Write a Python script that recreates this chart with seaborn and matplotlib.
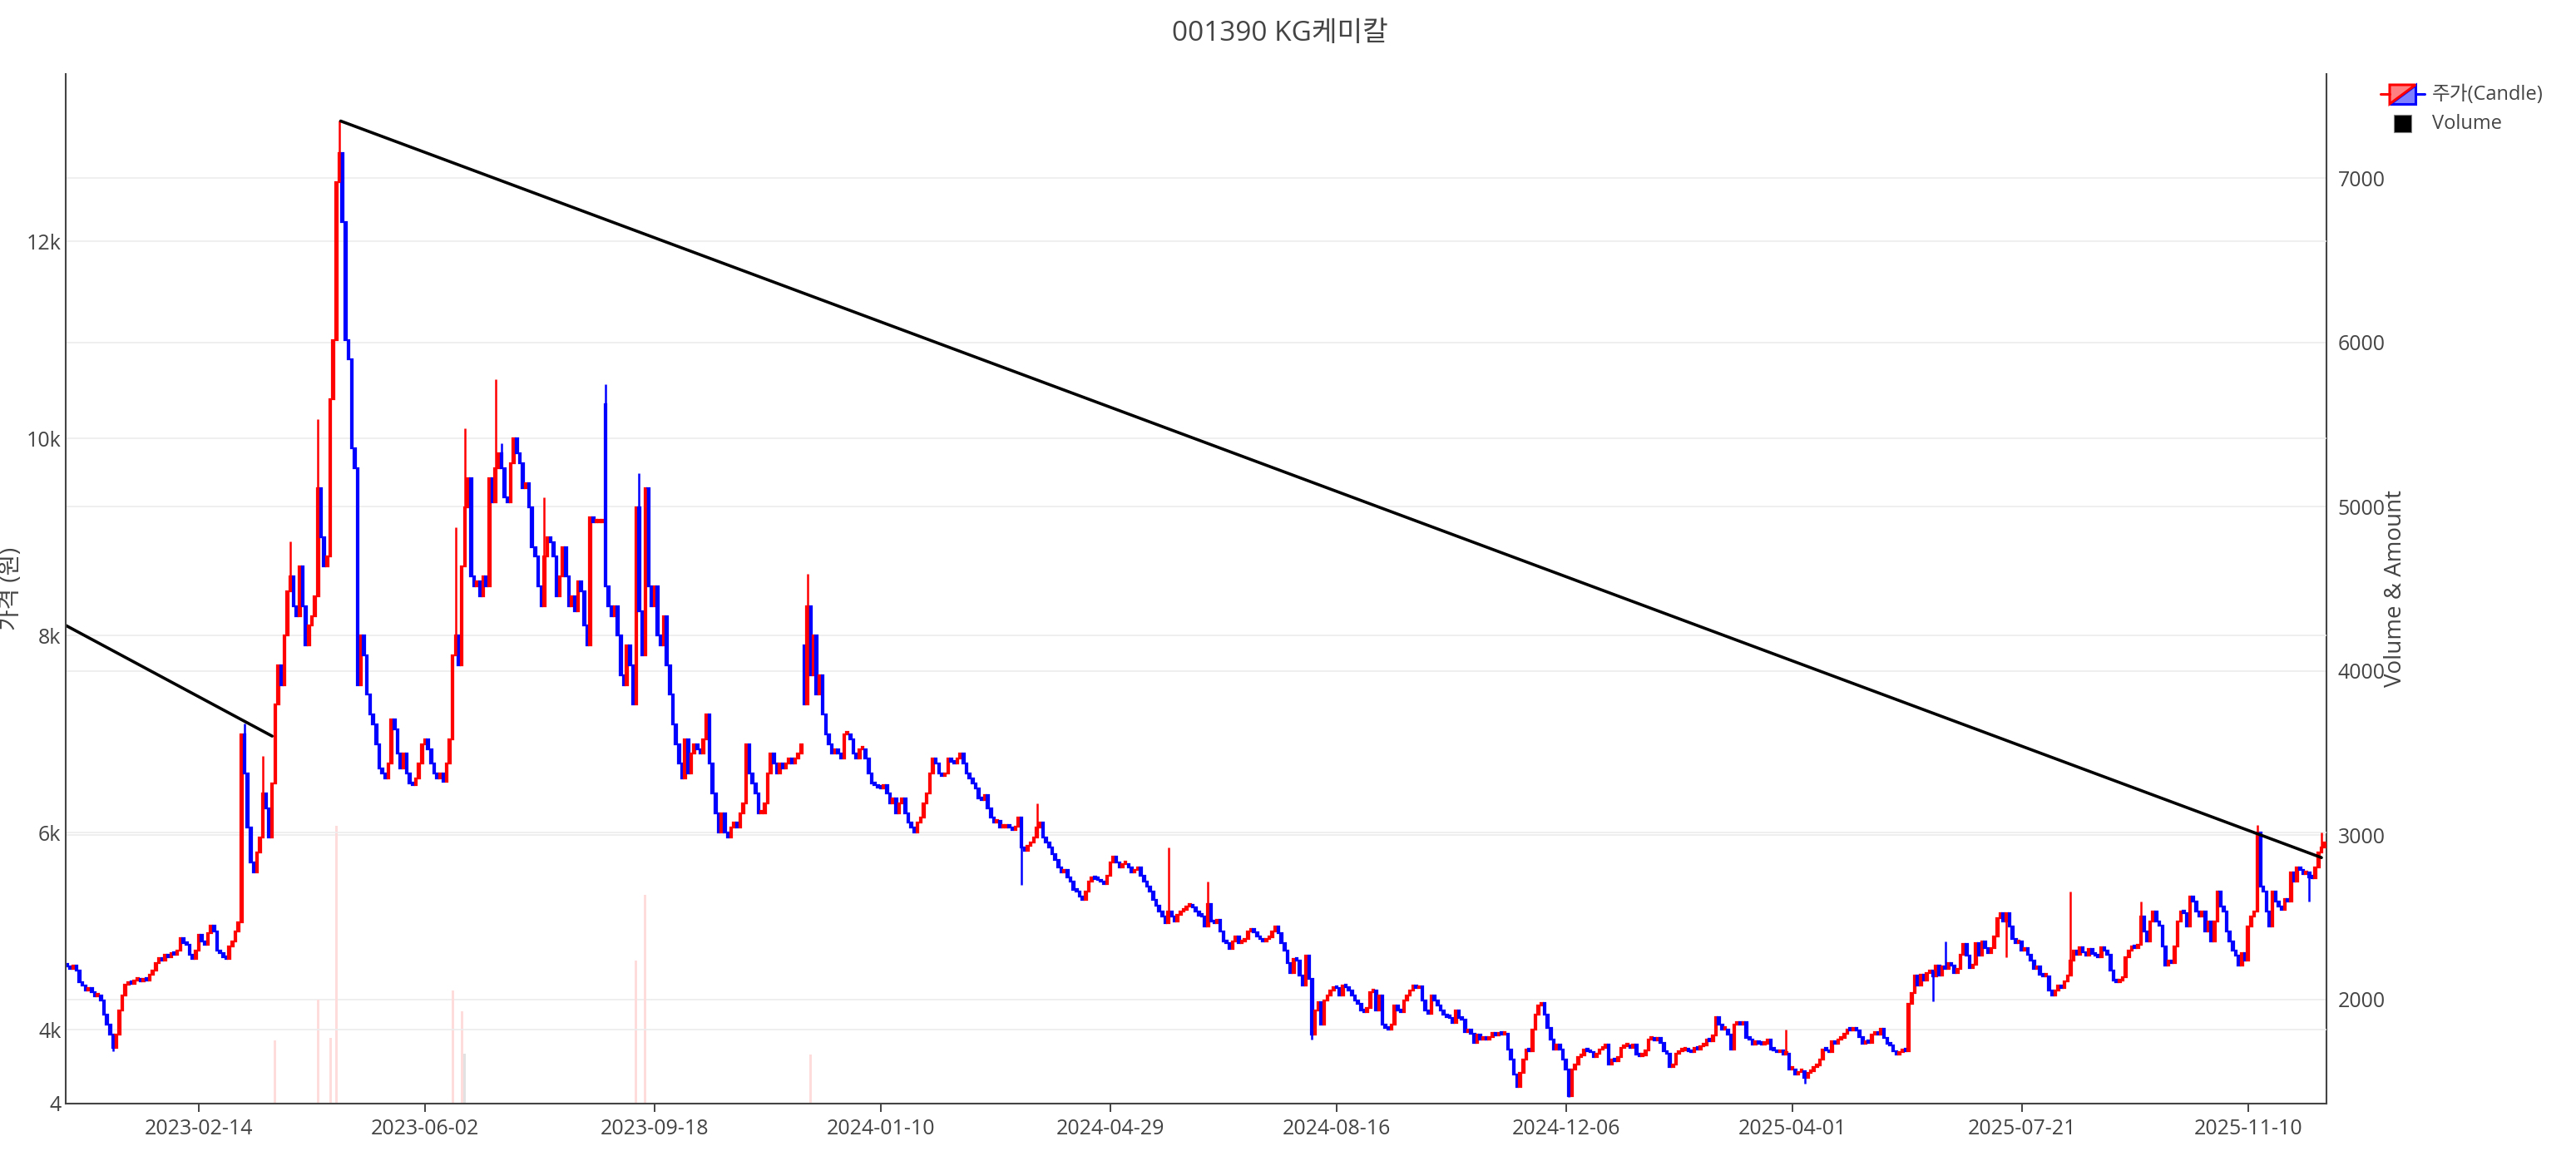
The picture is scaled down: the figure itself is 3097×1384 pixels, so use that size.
import matplotlib
matplotlib.use("Agg")
import matplotlib.pyplot as plt
import seaborn as sns
import numpy as np
import pandas as pd
from matplotlib.patches import Polygon, Rectangle

# daily closing prices (won), one per trading day
closes = [
    4640, 4620, 4650, 4600, 4480, 4450, 4400, 4420, 4380, 4340,
    4350, 4300, 4150, 4050, 3950, 3820, 3950, 4200, 4350, 4460,
    4480, 4470, 4500, 4510, 4490, 4520, 4500, 4560, 4600, 4680,
    4730, 4700, 4760, 4740, 4780, 4760, 4800, 4930, 4880, 4860,
    4760, 4720, 4800, 4960, 4900, 4860, 4980, 5060, 5000, 4800,
    4780, 4740, 4720, 4850, 4900, 5000, 5090, 7000, 6600, 6050,
    5700, 5600, 5800, 5950, 6400, 6250, 5950, 6500, 7300, 7700,
    7500, 8000, 8450, 8600, 8300, 8200, 8700, 8300, 7900, 8100,
    8200, 8400, 9500, 9000, 8700, 8800, 10400, 11000, 12600, 12900,
    12200, 11000, 10800, 9900, 9700, 7500, 8000, 7800, 7400, 7200,
    7100, 6900, 6650, 6600, 6550, 6700, 7150, 7050, 6800, 6650,
    6800, 6600, 6500, 6480, 6550, 6700, 6900, 6950, 6850, 6700,
    6600, 6550, 6600, 6520, 6700, 6950, 7800, 8000, 7700, 8700,
    9300, 9600, 8600, 8500, 8550, 8400, 8600, 8500, 9600, 9350,
    9700, 9850, 9700, 9400, 9350, 9750, 10000, 9850, 9750, 9500,
    9550, 9300, 8900, 8800, 8500, 8300, 8800, 9000, 8950, 8800,
    8400, 8600, 8900, 8600, 8300, 8400, 8250, 8550, 8450, 8100,
    7900, 9200, 9150, 9150, 9150, 9150, 8500, 8300, 8200, 8300,
    8000, 7600, 7500, 7900, 7700, 7300, 9300, 8250, 7800, 9500,
    8500, 8300, 8500, 8000, 7900, 8200, 7700, 7400, 7100, 6900,
    6700, 6550, 6950, 6600, 6800, 6900, 6850, 6800, 6950, 7200,
    6700, 6400, 6200, 6000, 6200, 6000, 5950, 6050, 6100, 6050,
    6200, 6300, 6900, 6600, 6500, 6400, 6200, 6200, 6300, 6600,
    6800, 6700, 6600, 6700, 6650, 6700, 6750, 6700, 6750, 6800,
    6900, 7300, 8300, 7600, 8000, 7400, 7600, 7200, 7000, 6900,
    6800, 6850, 6800, 6750, 7000, 7000, 6950, 6800, 6750, 6850,
    6850, 6750, 6600, 6500, 6480, 6460, 6450, 6480, 6400, 6300,
    6350, 6200, 6300, 6350, 6200, 6100, 6050, 6000, 6100, 6150,
    6300, 6400, 6600, 6750, 6700, 6600, 6580, 6600, 6750, 6720,
    6700, 6750, 6800, 6700, 6600, 6550, 6500, 6450, 6350, 6330,
    6380, 6250, 6150, 6100, 6120, 6050, 6050, 6080, 6050, 6030,
    6060, 6150, 5850, 5820, 5870, 5900, 5950, 6050, 6100, 5950,
    5900, 5850, 5780, 5720, 5650, 5600, 5620, 5550, 5500, 5420,
    5400, 5350, 5320, 5400, 5500, 5550, 5530, 5520, 5500, 5480,
    5560, 5700, 5760, 5700, 5650, 5680, 5680, 5650, 5600, 5620,
    5650, 5560, 5500, 5450, 5400, 5320, 5260, 5200, 5150, 5080,
    5200, 5150, 5100, 5170, 5200, 5220, 5250, 5260, 5240, 5200,
    5160, 5150, 5050, 5280, 5100, 5080, 5120, 5000, 4900, 4880,
    4820, 4900, 4950, 4880, 4900, 4920, 5000, 5020, 4990, 4950,
    4920, 4900, 4920, 4940, 5000, 5050, 4980, 4880, 4800, 4680,
    4580, 4720, 4700, 4550, 4450, 4750, 4520, 3950, 4200, 4280,
    4050, 4300, 4350, 4400, 4430, 4420, 4350, 4450, 4430, 4400,
    4350, 4300, 4260, 4200, 4180, 4220, 4380, 4400, 4200, 4350,
    4050, 4020, 4000, 4050, 4250, 4200, 4180, 4300, 4350, 4400,
    4450, 4420, 4440, 4300, 4200, 4160, 4350, 4300, 4250, 4200,
    4150, 4130, 4120, 4070, 4200, 4120, 4100, 3980, 4000, 3960,
    3870, 3950, 3900, 3920, 3900, 3930, 3970, 3940, 3960, 3950,
    3960, 3800, 3700, 3550, 3420, 3560, 3700, 3800, 3780, 4000,
    4150, 4250, 4270, 4150, 4020, 3900, 3800, 3850, 3800, 3700,
    3600, 3330, 3600, 3650, 3720, 3740, 3800, 3780, 3770, 3720,
    3760, 3800, 3820, 3850, 3650, 3700, 3680, 3720, 3820, 3830,
    3840, 3820, 3850, 3750, 3730, 3740, 3790, 3900, 3920, 3890,
    3920, 3870, 3780, 3760, 3620, 3650, 3760, 3780, 3790, 3800,
    3780, 3770, 3820, 3800, 3830, 3840, 3900, 3880, 3940, 4130,
    4050, 4000, 4000, 3950, 3800, 4050, 4080, 4050, 4080, 3920,
    3900, 3850, 3880, 3860, 3850, 3860, 3900, 3800, 3790, 3770,
    3790, 3750, 3760, 3600, 3600, 3550, 3570, 3580, 3510, 3560,
    3580, 3620, 3640, 3700, 3800, 3790, 3770, 3880, 3860, 3900,
    3920, 3960, 4000, 3990, 4010, 3990, 3930, 3860, 3880, 3870,
    3950, 3980, 3950, 4010, 3920, 3860, 3840, 3780, 3750, 3770,
    3800, 3780, 4260, 4370, 4550, 4450, 4560, 4500, 4580, 4600,
    4540, 4650, 4550, 4640, 4620, 4680, 4650, 4580, 4620, 4760,
    4870, 4750, 4630, 4660, 4880, 4750, 4900, 4830, 4780, 4830,
    4950, 5130, 5180, 5100, 5180, 5050, 4920, 4880, 4900, 4800,
    4830, 4760, 4700, 4620, 4640, 4560, 4540, 4540, 4400, 4350,
    4400, 4450, 4420, 4490, 4550, 4700, 4800, 4760, 4840, 4790,
    4750, 4820, 4770, 4750, 4740, 4840, 4800, 4760, 4600, 4500,
    4480, 4500, 4530, 4740, 4800, 4850, 4830, 4860, 5150, 5000,
    4900, 5100, 5200, 5100, 5060, 4850, 4650, 4700, 4680, 4850,
    5100, 5200, 5180, 5050, 5350, 5300, 5200, 5150, 5200, 5000,
    5100, 4900, 5100, 5400, 5250, 5200, 5000, 4900, 4800, 4750,
    4650, 4780, 4700, 5050, 5150, 5200, 6000, 5450, 5400, 5200,
    5050, 5400, 5300, 5250, 5220, 5330, 5300, 5600, 5500, 5650,
    5620, 5580, 5600, 5550, 5540, 5650, 5800, 5850, 5900,
]
first_open = 4660
gap_opens = {176: 10350, 241: 7900}

# long shadows that stick out of the bodies
wick_idx = [15, 58, 64, 73, 82, 89, 127, 130, 140, 142, 156, 176, 187, 189, 242,
            312, 317, 360, 373, 407, 491, 562, 568, 610, 614, 634, 655, 678, 703,
            716, 733, 737]
wick_end = [3780, 7110, 6780, 8960, 10200, 13230, 9100, 10100, 10600, 9950, 9400,
            10550, 9650, 9500, 8630, 5470, 6300, 5850, 5500, 3900, 3320, 4000, 3450,
            4290, 4900, 4740, 5400, 5300, 5400, 6080, 5300, 6000]

# the few volume bars that reach into the visible range of the right axis
vol_idx = [68, 82, 86, 88, 126, 129, 130, 186, 189, 243]
vol_vals = [1750, 2000, 1765, 3057, 2056, 1929, 1670, 2236, 2635, 1665]
vol_gray = [130]

# trend lines: (candle index, price)
trend_a_x = [-0.5, 67]
trend_a_y = [8104, 6980]
trend_b_x = [89.4, 737]
trend_b_y = [13222, 5747]

tick_pos = [43, 117, 192, 266, 341, 415, 490, 564, 639, 713]
tick_labels = ["2023-02-14", "2023-06-02", "2023-09-18", "2024-01-10", "2024-04-29",
               "2024-08-16", "2024-12-06", "2025-04-01", "2025-07-21", "2025-11-10"]
price_ticks = [4000, 6000, 8000, 10000, 12000]
vol_ticks = [2000, 3000, 4000, 5000, 6000, 7000]

sns.set_theme(style="white")
plt.rcParams["font.family"] = ["Open Sans", "Noto Sans CJK KR", "DejaVu Sans"]

TXT = "#444444"
GRID = "#ececec"
RED = "#ff0000"
BLUE = "#0000ff"

df = pd.DataFrame({"close": closes})
df["idx"] = np.arange(len(df))
df["open"] = df["close"].shift(1).fillna(first_open)
for k, v in gap_opens.items():
    df.loc[k, "open"] = v
df["up"] = df["close"] >= df["open"]
df["lo"] = df[["open", "close"]].min(axis=1)
df["hi"] = df[["open", "close"]].max(axis=1)
df["h"] = (df["hi"] - df["lo"]).clip(lower=25)
df["col"] = np.where(df["up"], RED, BLUE)

fig = plt.figure(figsize=(30.97, 13.84), dpi=100)
ax = fig.add_axes([0.0255, 0.0412, 0.8776, 0.8945])
ax2 = ax.twinx()
ax.set_zorder(ax2.get_zorder() + 1)
ax.patch.set_visible(False)

# volume (right axis)
vcols = ["#e2e2e2" if i in vol_gray else "#ffdcdc" for i in vol_idx]
ax2.bar(vol_idx, vol_vals, width=0.8, color=vcols, linewidth=0)
ax2.set_ylim(1366, 7634)
ax2.set_yticks(vol_ticks)
ax2.set_yticklabels([str(v) for v in vol_ticks])
ax2.grid(axis="y", color=GRID, linewidth=1.2)
ax2.set_axisbelow(True)

# candles
ax.grid(axis="y", color=GRID, linewidth=1.2)
ax.set_axisbelow(True)
ax.bar(df["idx"], df["h"], bottom=df["lo"], width=0.7, color=df["col"],
       edgecolor=df["col"], linewidth=1.6)
w = df.loc[wick_idx]
w_lo = np.minimum(w["lo"].values, wick_end)
w_hi = np.maximum(w["hi"].values, wick_end)
ax.vlines(w["idx"], w_lo, w_hi, colors=w["col"], linewidth=1.8)

sns.lineplot(x=trend_a_x, y=trend_a_y, ax=ax, color="black", linewidth=2.6)
sns.lineplot(x=trend_b_x, y=trend_b_y, ax=ax, color="black", linewidth=2.6)

ax.set_xlim(-0.5, len(df) - 0.4)
ax.set_ylim(3251, 13699)
ax.set_xticks(tick_pos)
ax.set_xticklabels(tick_labels)
ax.set_yticks([3251] + price_ticks)
ax.set_yticklabels(["4"] + [f"{p // 1000}k" for p in price_ticks])
ax.set_xlabel("")
ax.set_ylabel("")

for a in (ax, ax2):
    for s in a.spines.values():
        s.set_color(TXT)
        s.set_linewidth(1.5)
    a.spines["top"].set_visible(False)
ax.spines["right"].set_visible(False)
ax2.spines["left"].set_visible(False)
ax2.spines["bottom"].set_visible(False)

ax.tick_params(axis="x", length=7, width=1.4, color=TXT, labelcolor=TXT,
               labelsize=18, pad=6, bottom=True)
ax.tick_params(axis="y", length=0, labelcolor=TXT, labelsize=18, pad=4, left=True)
ax2.tick_params(axis="y", length=0, labelcolor=TXT, labelsize=18, pad=10, right=True)

fig.text(1539 / 3097, 1 - 40 / 1384, "001390 KG케미칼", ha="center", va="center",
         fontsize=24, color=TXT)
fig.text(14 / 3097, 1 - 708 / 1384, "가격 (원)", ha="center", va="center",
         rotation=90, fontsize=20, color=TXT)
fig.text(2880 / 3097, 1 - 708 / 1384, "Volume & Amount", ha="center", va="center",
         rotation=90, fontsize=20, color=TXT)

# legend drawn by hand in pixel space
lg = fig.add_axes([0, 0, 1, 1])
lg.set_xlim(0, 3097)
lg.set_ylim(1384, 0)
lg.axis("off")
lg.plot([2862, 2873], [113, 113], color=RED, linewidth=2.2)
lg.plot([2904, 2915], [113, 113], color=BLUE, linewidth=2.2)
lg.add_patch(Polygon([(2904, 102), (2904, 125), (2873, 125)], closed=True,
                     facecolor="#8080ff", edgecolor=BLUE, linewidth=2.2))
lg.add_patch(Polygon([(2873, 102), (2904, 102), (2873, 125)], closed=True,
                     facecolor="#ff8080", edgecolor=RED, linewidth=2.2))
lg.add_patch(Rectangle((2878, 138), 21, 21, facecolor="black", edgecolor="#888888",
                       linewidth=0.8))
lg.text(2924, 114, "주가(Candle)", va="center", ha="left", fontsize=17, color=TXT)
lg.text(2924, 149, "Volume", va="center", ha="left", fontsize=17, color=TXT)

fig.savefig("out.png", dpi=100)
